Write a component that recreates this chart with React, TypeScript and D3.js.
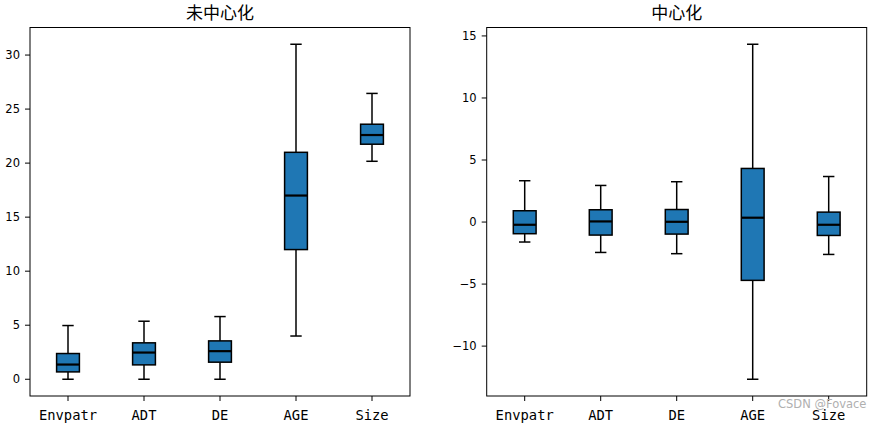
import React from "react";
import * as d3 from "d3";

const categories = ["Envpatr", "ADT", "DE", "AGE", "Size"];

// [whiskerLow, q1, median, q3, whiskerHigh]
const rawStats = [
  [0, 0.68, 1.36, 2.38, 4.97],
  [0, 1.33, 2.47, 3.37, 5.37],
  [0, 1.58, 2.6, 3.55, 5.8],
  [4.0, 12.0, 17.0, 21.0, 31.0],
  [20.17, 21.75, 22.6, 23.6, 26.45],
];

const centeredStats = [
  [-1.61, -0.94, -0.22, 0.91, 3.33],
  [-2.45, -1.05, 0.05, 0.99, 2.95],
  [-2.55, -0.97, 0.02, 1.01, 3.25],
  [-12.67, -4.7, 0.35, 4.32, 14.33],
  [-2.61, -1.08, -0.22, 0.8, 3.67],
];

const rawTicks = [0, 5, 10, 15, 20, 25, 30];
const centeredTicks = [-10, -5, 0, 5, 10, 15];

const titles = ["未中心化", "中心化"];

const W = 872;
const H = 425;
const TOP = 27.5;
const BOTTOM = 396;

function Panel({ x0, x1, stats, ticks, title }: { x0: number; x1: number; stats: number[][]; ticks: number[]; title: string }) {
  const lo = d3.min(stats, (s) => s[0]) as number;
  const hi = d3.max(stats, (s) => s[4]) as number;
  const m = (hi - lo) * 0.05;
  const y = d3.scaleLinear().domain([lo - m, hi + m]).range([BOTTOM, TOP]);
  const x = d3.scaleLinear().domain([0.5, categories.length + 0.5]).range([x0, x1]);
  const step = x(2) - x(1);
  const bw = step * 0.3;
  const cw = bw / 2;
  return (
    <g>
      <text x={(x0 + x1) / 2} y={19} textAnchor="middle" fontFamily="'Noto Sans CJK SC', sans-serif" fontSize={17} fill="#000">
        {title}
      </text>
      {stats.map((s, i) => {
        const cx = x(i + 1);
        return (
          <g key={i}>
            <line x1={cx} x2={cx} y1={y(s[0])} y2={y(s[1])} stroke="#000" strokeWidth={1.5} />
            <line x1={cx} x2={cx} y1={y(s[3])} y2={y(s[4])} stroke="#000" strokeWidth={1.5} />
            <line x1={cx - cw / 2} x2={cx + cw / 2} y1={y(s[0])} y2={y(s[0])} stroke="#000" strokeWidth={1.5} />
            <line x1={cx - cw / 2} x2={cx + cw / 2} y1={y(s[4])} y2={y(s[4])} stroke="#000" strokeWidth={1.5} />
            <rect x={cx - bw / 2} y={y(s[3])} width={bw} height={y(s[1]) - y(s[3])} fill="#1f77b4" stroke="#000" strokeWidth={1.5} />
            <line x1={cx - bw / 2} x2={cx + bw / 2} y1={y(s[2])} y2={y(s[2])} stroke="#000" strokeWidth={2.2} />
          </g>
        );
      })}
      <rect x={x0} y={TOP} width={x1 - x0} height={BOTTOM - TOP} fill="none" stroke="#000" strokeWidth={1} />
      {ticks.map((t) => (
        <g key={t}>
          <line x1={x0 - 5} x2={x0} y1={y(t)} y2={y(t)} stroke="#000" strokeWidth={1} />
          <text x={x0 - 10} y={y(t)} dy="0.36em" textAnchor="end" fontFamily="'DejaVu Sans', sans-serif" fontSize={11.5} fill="#000">
            {t < 0 ? "\u2212" + Math.abs(t) : String(t)}
          </text>
        </g>
      ))}
      {categories.map((c, i) => (
        <g key={c}>
          <line x1={x(i + 1)} x2={x(i + 1)} y1={BOTTOM} y2={BOTTOM + 5} stroke="#000" strokeWidth={1} />
          <text x={x(i + 1)} y={419.5} textAnchor="middle" fontFamily="'DejaVu Sans Mono', monospace" fontSize={13.8} fill="#000">
            {c}
          </text>
        </g>
      ))}
    </g>
  );
}

export default function App() {
  return (
    <svg width={W} height={H} style={{ display: "block", position: "absolute", left: 0, top: 0, background: "#fff" }}>
      <rect width={W} height={H} fill="#fff" />
      <Panel x0={30} x1={410} stats={rawStats} ticks={rawTicks} title={titles[0]} />
      <Panel x0={486.7} x1={866.7} stats={centeredStats} ticks={centeredTicks} title={titles[1]} />
      <text x={778} y={408} fontFamily="'DejaVu Sans', sans-serif" fontSize={11.5} fill="#b0b0b0">
        CSDN @Fovace
      </text>
    </svg>
  );
}
